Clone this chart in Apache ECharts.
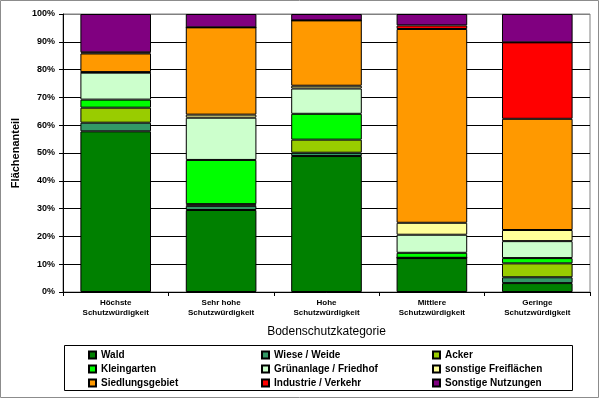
<!DOCTYPE html>
<html><head><meta charset="utf-8">
<script src="https://cdn.jsdelivr.net/npm/echarts@6/dist/echarts.min.js"></script>
<style>html,body{margin:0;padding:0;background:#fff}#c{width:600px;height:400px}</style>
</head><body><div id="c"></div>
<script>
var categories = ['Höchste\nSchutzwürdigkeit', 'Sehr hohe\nSchutzwürdigkeit', 'Hohe\nSchutzwürdigkeit', 'Mittlere\nSchutzwürdigkeit', 'Geringe\nSchutzwürdigkeit'];
var seriesNames = ['Wald', 'Wiese / Weide', 'Acker', 'Kleingarten', 'Grünanlage / Friedhof', 'sonstige Freiflächen', 'Siedlungsgebiet', 'Industrie / Verkehr', 'Sonstige Nutzungen'];
var wald = [57.8, 29.5, 48.9, 12.2, 3.2];
var wiese = [3.1, 1.5, 1.2, 0.1, 2.1];
var acker = [5.4, 0.6, 4.7, 0, 5.0];
var kleingarten = [2.9, 15.9, 9.3, 1.8, 1.9];
var gruenanlage = [9.7, 15.2, 9.1, 6.5, 6.1];
var freiflaechen = [0.2, 1.1, 1.0, 4.3, 4.0];
var siedlung = [6.7, 31.4, 23.5, 69.7, 40.0];
var industrie = [0.4, 0, 0, 1.3, 27.5];
var sonstige = [13.8, 4.8, 2.3, 4.1, 10.2];
var yTicks = [0, 10, 20, 30, 40, 50, 60, 70, 80, 90, 100];
var colors = ['#008000', '#339966', '#99CC00', '#00FF00', '#CCFFCC', '#FFFF99', '#FF9900', '#FF0000', '#800080'];
var values = [wald, wiese, acker, kleingarten, gruenanlage, freiflaechen, siedlung, industrie, sonstige];

var font = 'Liberation Sans, Arial, sans-serif';
var chart = echarts.init(document.getElementById('c'), null, {renderer: 'canvas'});
var series = seriesNames.map(function (n, i) {
  return {
    name: n, type: 'bar', stack: 'all', data: values[i],
    barCategoryGap: '33%',
    itemStyle: {color: colors[i], borderColor: '#000', borderWidth: 1},
    emphasis: {disabled: true}
  };
});
var splitColors = yTicks.map(function (t, i) { return i === yTicks.length - 1 ? '#808080' : '#000'; });
function legendCol(names, left) {
  return {
    orient: 'vertical', left: left, top: 349, itemWidth: 7, itemHeight: 7, itemGap: 2, itemTextGap: 2,
    icon: 'rect', data: names, selectedMode: false,
    textStyle: {fontFamily: font, fontSize: 10, fontWeight: 'bold', color: '#000', lineHeight: 12},
    padding: 0
  };
}
chart.setOption({
  animation: false,
  color: colors,
  grid: {left: 63, right: 10, top: 14, bottom: 108, show: true, borderColor: '#808080', borderWidth: 1, backgroundColor: 'transparent'},
  xAxis: {
    type: 'category', data: categories,
    axisLine: {lineStyle: {color: '#000', width: 1}},
    axisTick: {show: true, length: 4, lineStyle: {color: '#000'}},
    axisLabel: {fontFamily: font, fontSize: 8, fontWeight: 'bold', color: '#000', lineHeight: 10, margin: 6, interval: 0},
    name: 'Bodenschutzkategorie', nameLocation: 'middle', nameGap: 34,
    nameTextStyle: {fontFamily: font, fontSize: 12, color: '#000'}
  },
  yAxis: {
    type: 'value', min: 0, max: 100, interval: 10,
    axisLine: {show: true, lineStyle: {color: '#000', width: 1}},
    axisTick: {show: true, length: 4, lineStyle: {color: '#000'}},
    axisLabel: {formatter: '{value}%', fontFamily: font, fontSize: 9, fontWeight: 'bold', color: '#000', margin: 8},
    splitLine: {show: true, lineStyle: {color: splitColors, width: 1}},
    name: 'Flächenanteil', nameLocation: 'middle', nameGap: 39,
    nameTextStyle: {fontFamily: font, fontSize: 11, fontWeight: 'bold', color: '#000'}
  },
  legend: [
    legendCol(['Wald', 'Kleingarten', 'Siedlungsgebiet'], 88),
    legendCol(['Wiese / Weide', 'Grünanlage / Friedhof', 'Industrie / Verkehr'], 261),
    legendCol(['Acker', 'sonstige Freiflächen', 'Sonstige Nutzungen'], 432)
  ],
  graphic: [
    {type: 'rect', shape: {x: 64.5, y: 345.5, width: 508, height: 45}, style: {fill: 'none', stroke: '#000', lineWidth: 1}, z: -1},
    {type: 'rect', shape: {x: 0.5, y: 0.5, width: 598, height: 397}, style: {fill: 'none', stroke: '#8c8c8c', lineWidth: 1}, z: -1}
  ],
  series: series
});
</script></body></html>
